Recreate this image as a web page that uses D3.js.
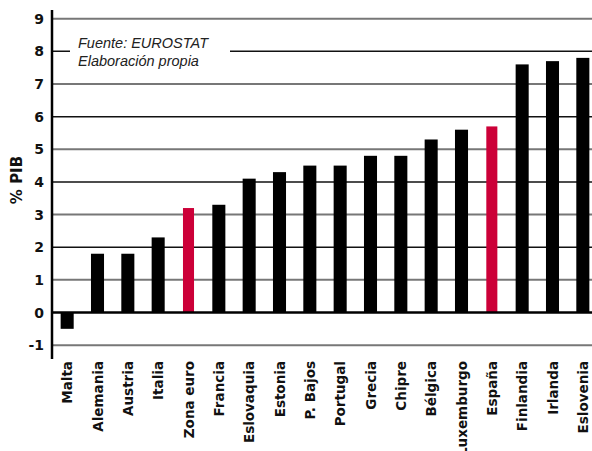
<!DOCTYPE html>
<html>
<head>
<meta charset="utf-8">
<script src="https://cdn.jsdelivr.net/npm/d3@7"></script>
<style>
  html, body { margin: 0; padding: 0; background: #fff; }
  svg { display: block; }
</style>
</head>
<body>
<svg id="chart" width="592" height="451"></svg>
<script>
const categories = ["Malta","Alemania","Austria","Italia","Zona euro","Francia","Eslovaquia","Estonia","P. Bajos","Portugal","Grecia","Chipre","Bélgica","Luxemburgo","España","Finlandia","Irlanda","Eslovenia"];
const values = [-0.5, 1.8, 1.8, 2.3, 3.2, 3.3, 4.1, 4.3, 4.5, 4.5, 4.8, 4.8, 5.3, 5.6, 5.7, 7.6, 7.7, 7.8];
const highlighted = ["Zona euro", "España"];
const yTicks = [-1, 0, 1, 2, 3, 4, 5, 6, 7, 8, 9];
const yTitle = "% PIB";
const sourceLines = ["Fuente: EUROSTAT", "Elaboración propia"];

const svg = d3.select("#chart");
const W = 592;
const axisX = 52;

const y = d3.scaleLinear().domain([0, 9]).range([312.5, 18.7]);
const x = d3.scaleBand().domain(categories).range([axisX, 598]).paddingInner(0.57).paddingOuter(0.285);

// gridlines
svg.append("g").selectAll("line").data(yTicks.filter(d => d !== 0)).join("line")
  .attr("x1", axisX).attr("x2", W)
  .attr("y1", d => y(d)).attr("y2", d => y(d))
  .attr("stroke", d => (d % 2 === 0) ? "#111" : "#777")
  .attr("stroke-width", d => (d % 2 === 0) ? 1.5 : 2);

// source box (interrupts gridline 8)
svg.append("rect").attr("x", 70).attr("y", 36).attr("width", 160).attr("height", 34).attr("fill", "#fff");
svg.append("g").selectAll("text").data(sourceLines).join("text")
  .attr("x", 78).attr("y", (d, i) => 48 + i * 18)
  .attr("font-family", "Liberation Sans, Arial, sans-serif")
  .attr("font-style", "italic")
  .attr("font-size", 14.5)
  .attr("fill", "#222")
  .text(d => d);

// bars
svg.append("g").selectAll("rect").data(categories).join("rect")
  .attr("x", (d) => highlighted.includes(d) ? x(d) + 1 : x(d))
  .attr("width", d => highlighted.includes(d) ? x.bandwidth() - 2 : x.bandwidth())
  .attr("y", (d, i) => y(Math.max(0, values[i])))
  .attr("height", (d, i) => Math.abs(y(values[i]) - y(0)))
  .attr("fill", d => highlighted.includes(d) ? "#cc0038" : "#000");

// zero line
svg.append("line").attr("x1", axisX).attr("x2", W).attr("y1", y(0)).attr("y2", y(0))
  .attr("stroke", "#000").attr("stroke-width", 2.5);

// y axis line
svg.append("line").attr("x1", axisX).attr("x2", axisX).attr("y1", 10).attr("y2", 359)
  .attr("stroke", "#000").attr("stroke-width", 2.5);

// y tick labels
svg.append("g").selectAll("text").data(yTicks).join("text")
  .attr("x", 44).attr("y", d => y(d)).attr("dy", "0.36em")
  .attr("text-anchor", "end")
  .attr("font-family", "DejaVu Sans, sans-serif")
  .attr("font-weight", "bold")
  .attr("font-size", 14)
  .attr("fill", "#111")
  .text(d => d);

// y title
svg.append("text")
  .attr("transform", "translate(22,180) rotate(-90)")
  .attr("text-anchor", "middle")
  .attr("font-family", "DejaVu Sans, sans-serif")
  .attr("font-weight", "bold")
  .attr("font-size", 15)
  .attr("fill", "#111")
  .text(yTitle);

// category labels
svg.append("g").selectAll("text").data(categories).join("text")
  .attr("transform", d => `translate(${x(d) + x.bandwidth() / 2 + 5},361) rotate(-90)`)
  .attr("text-anchor", "end")
  .attr("font-family", "DejaVu Sans, sans-serif")
  .attr("font-weight", "bold")
  .attr("font-size", 13.5)
  .attr("fill", "#111")
  .text(d => d);
</script>
</body>
</html>
